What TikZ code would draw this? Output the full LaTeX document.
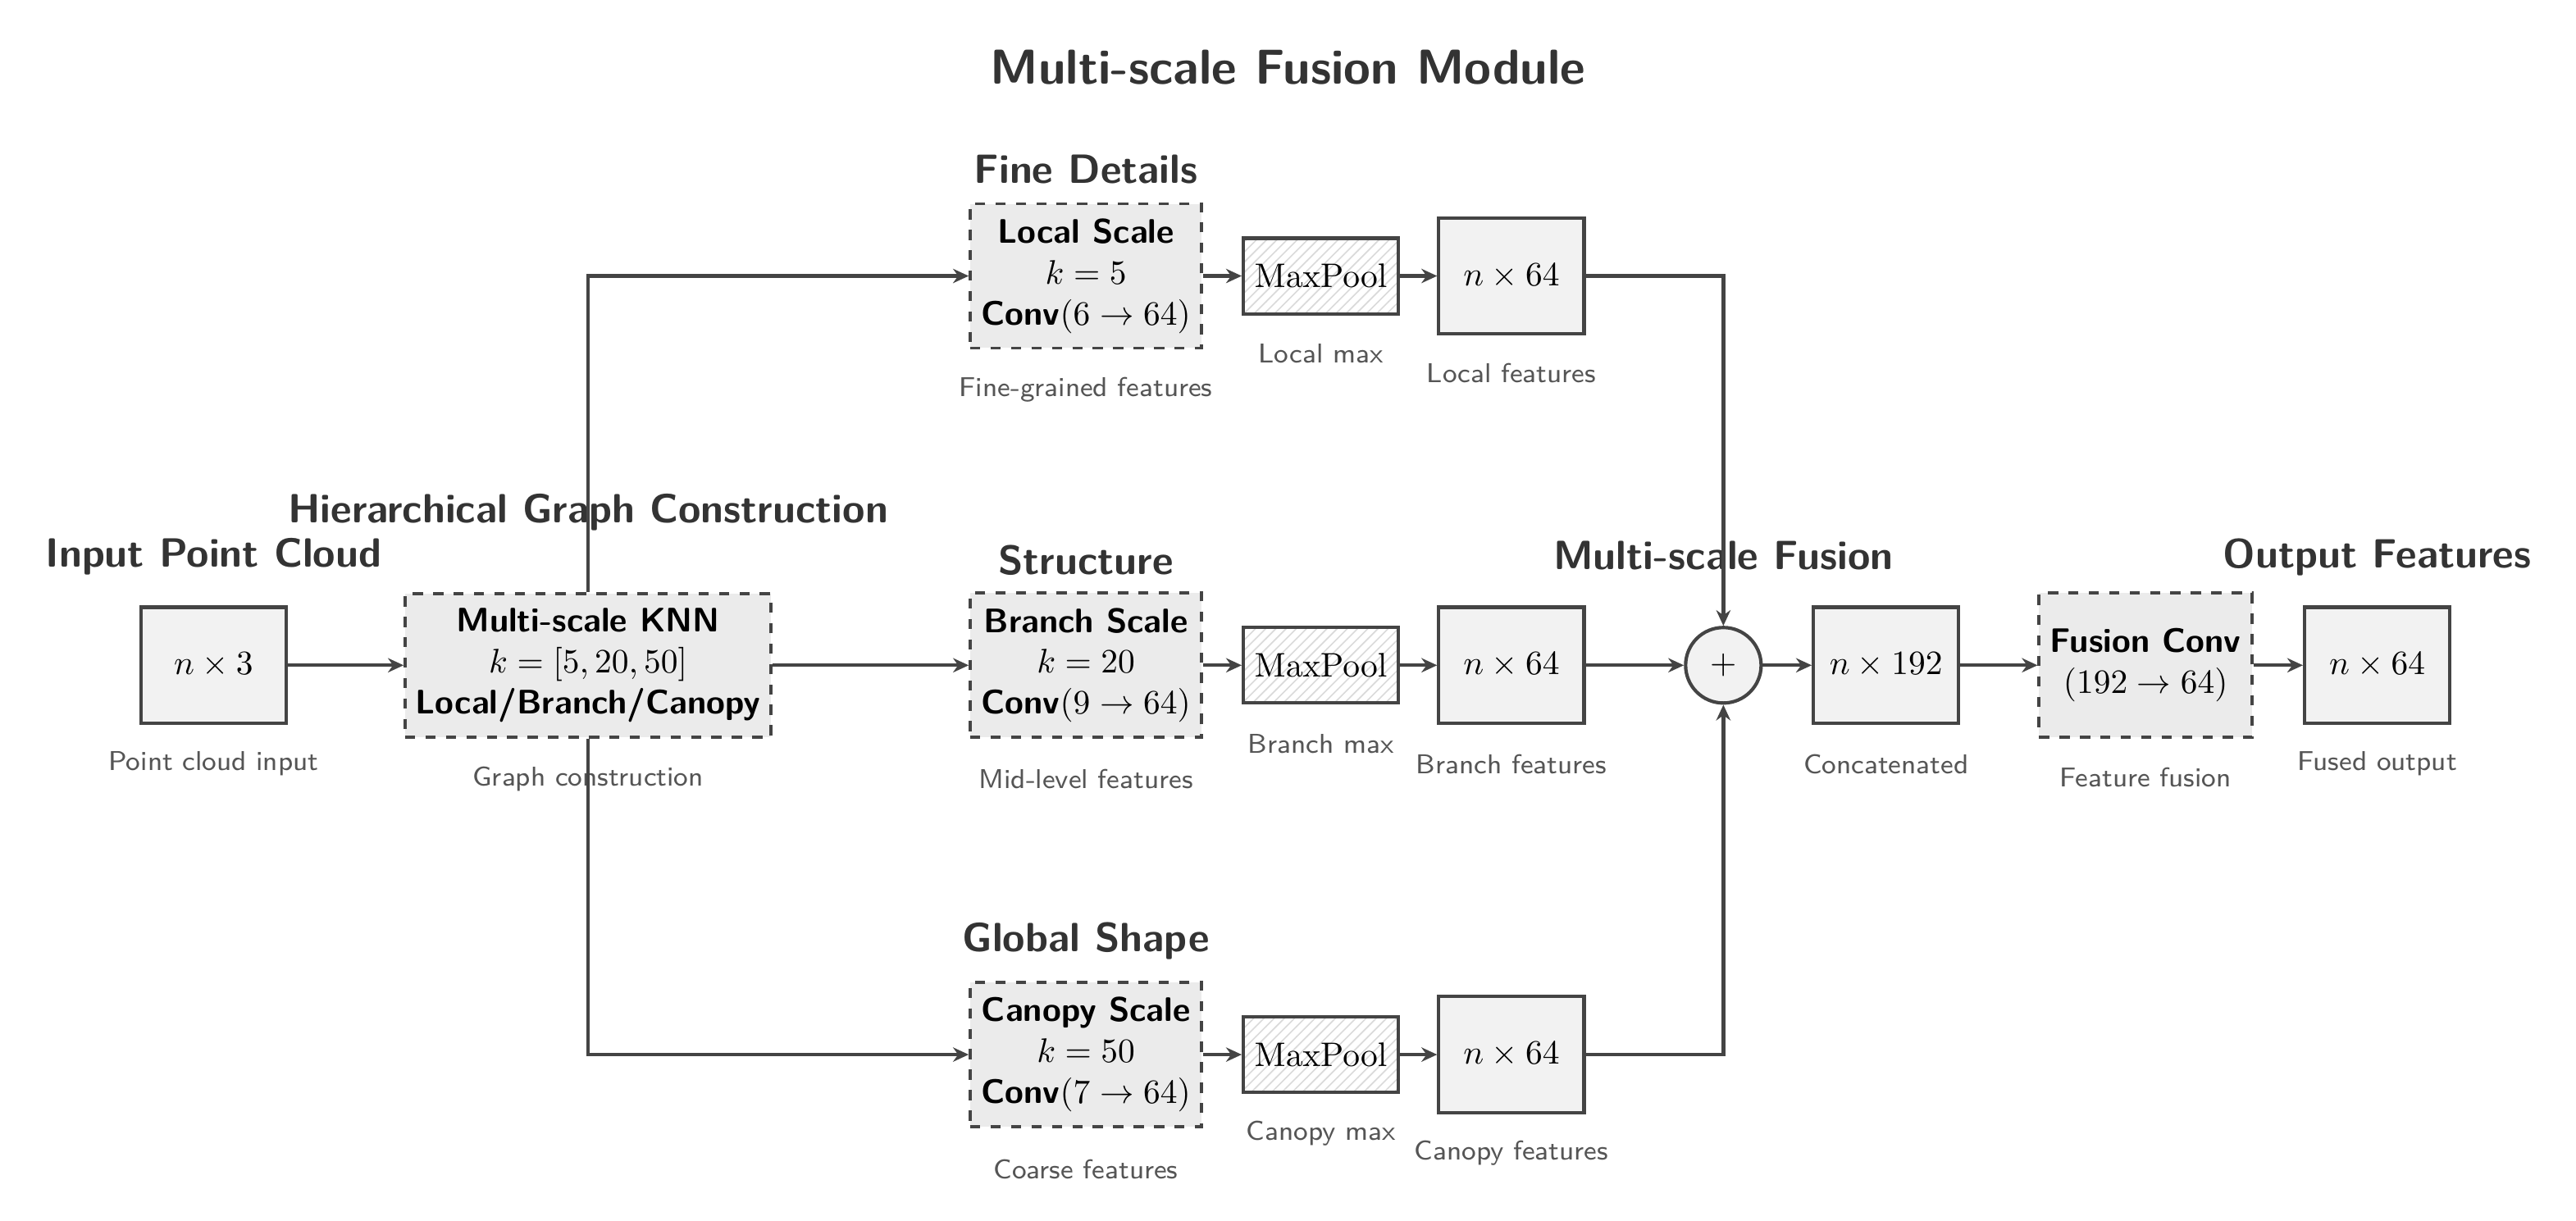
\documentclass[tikz,border=0pt]{standalone}
\usetikzlibrary{arrows.meta,patterns,shapes.geometric}
\definecolor{linec}{HTML}{444444}
\definecolor{titlec}{HTML}{333333}
\definecolor{labc}{HTML}{555555}
\definecolor{boxfill}{HTML}{F2F2F2}
\definecolor{dashfill}{HTML}{EBEBEB}
\definecolor{hatch}{HTML}{DADADA}
\newcommand\sfb[1]{{\sffamily\bfseries #1}}
\begin{document}
\begin{tikzpicture}[x=0.016964cm,y=-0.016964cm,
  databox/.style={draw=linec, line width=1pt, fill=boxfill, minimum width=1.5cm, minimum height=1.2cm, inner sep=2pt},
  procbox/.style={draw=linec, line width=0.9pt, dashed, fill=dashfill, align=center, inner sep=3pt},
  scalebox/.style={procbox, minimum width=2.39cm, minimum height=1.49cm},
  poolbox/.style={draw=linec, line width=1pt, pattern=north east lines, pattern color=hatch, minimum width=1.6cm, minimum height=0.78cm, inner sep=1pt},
  sumnode/.style={circle, draw=linec, line width=1pt, fill=boxfill, minimum size=0.78cm, inner sep=0pt},
  ttl/.style={text=titlec, font=\large\sffamily\bfseries},
  lab/.style={text=labc, font=\footnotesize\sffamily},
  conn/.style={draw=linec, line width=1.05pt, -{Stealth[length=4.6pt,width=4.2pt]}}
]
\useasboundingbox (0,0) rectangle (1568,743);

\node[text=titlec, font=\Large\sffamily\bfseries] (main) at (784,41) {Multi-scale Fusion Module};

% input
\node[databox] (in) at (130,405) {$n\times 3$};
\node[ttl] (tin) at (130,339) {Input Point Cloud};
\node[lab] (lin) at (130,465) {Point cloud input};

% knn
\node[procbox, minimum width=3.78cm, minimum height=1.48cm] (knn) at (358,405) {\sfb{Multi-scale KNN}\\ $k=[5,20,50]$\\ \sfb{Local/Branch/Canopy}};
\node[ttl] (tknn) at (358,312) {Hierarchical Graph Construction};
\node[lab] (lknn) at (358,474) {Graph construction};

% local
\node[scalebox] (sl) at (661,168) {\sfb{Local Scale}\\ $k=5$\\ \sfb{Conv}$(6\rightarrow 64)$};
\node[ttl] (tsl) at (661,103) {Fine Details};
\node[lab] (lsl) at (661,237) {Fine-grained features};
\node[poolbox] (pl) at (804,168) {$\mathrm{MaxPool}$};
\node[lab] (lpl) at (804,215) {Local max};
\node[databox] (fl) at (920,168) {$n\times 64$};
\node[lab] (lfl) at (920,227) {Local features};

% branch
\node[scalebox] (sb) at (661,405) {\sfb{Branch Scale}\\ $k=20$\\ \sfb{Conv}$(9\rightarrow 64)$};
\node[ttl] (tsb) at (661,341) {Structure};
\node[lab] (lsb) at (661,474) {Mid-level features};
\node[poolbox] (pb) at (804,405) {$\mathrm{MaxPool}$};
\node[lab] (lpb) at (804,453) {Branch max};
\node[databox] (fb) at (920,405) {$n\times 64$};
\node[lab] (lfb) at (920,465) {Branch features};

% canopy
\node[scalebox] (sc) at (661,642) {\sfb{Canopy Scale}\\ $k=50$\\ \sfb{Conv}$(7\rightarrow 64)$};
\node[ttl] (tsc) at (661,573) {Global Shape};
\node[lab] (lsc) at (661,712) {Coarse features};
\node[poolbox] (pc) at (804,642) {$\mathrm{MaxPool}$};
\node[lab] (lpc) at (804,690) {Canopy max};
\node[databox] (fc) at (920,642) {$n\times 64$};
\node[lab] (lfc) at (920,702) {Canopy features};

% fusion
\node[sumnode] (sum) at (1049,405) {$+$};
\node[ttl] (tsum) at (1049,338) {Multi-scale Fusion};
\node[databox] (cat) at (1148,405) {$n\times 192$};
\node[lab] (lcat) at (1148,465) {Concatenated};
\node[procbox, minimum width=2.2cm, minimum height=1.49cm] (fuse) at (1306,405) {\sfb{Fusion Conv}\\ $(192\rightarrow 64)$};
\node[lab] (lfuse) at (1306,473) {Feature fusion};
\node[databox] (out) at (1447,405) {$n\times 64$};
\node[ttl] (tout) at (1447,339) {Output Features};
\node[lab] (lout) at (1447,465) {Fused output};

% connectors
\draw[conn] (in) -- (knn);
\draw[conn] (knn.north) |- (sl.west);
\draw[conn] (knn) -- (sb);
\draw[conn] (knn.south) |- (sc.west);
\draw[conn] (sl) -- (pl);
\draw[conn] (pl) -- (fl);
\draw[conn] (sb) -- (pb);
\draw[conn] (pb) -- (fb);
\draw[conn] (sc) -- (pc);
\draw[conn] (pc) -- (fc);
\draw[conn] (fl.east) -| (sum.north);
\draw[conn] (fb) -- (sum);
\draw[conn] (fc.east) -| (sum.south);
\draw[conn] (sum) -- (cat);
\draw[conn] (cat) -- (fuse);
\draw[conn] (fuse) -- (out);
\end{tikzpicture}
\end{document}
